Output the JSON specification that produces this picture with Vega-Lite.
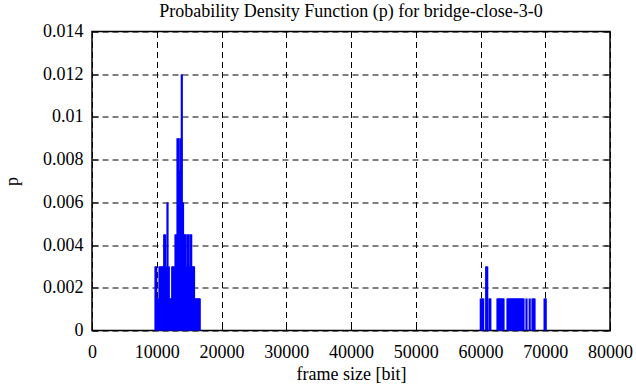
{
  "$schema": "https://vega.github.io/schema/vega-lite/v6.json",
  "width": 518,
  "height": 299,
  "autosize": "none",
  "padding": {"left": 92, "top": 31.5, "right": 26, "bottom": 56.5},
  "background": "white",
  "config": {
    "font": "Liberation Serif",
    "view": {"stroke": "black", "strokeWidth": 1.5},
    "axis": {
      "labelFont": "Liberation Serif",
      "titleFont": "Liberation Serif",
      "labelFontSize": 18,
      "titleFontSize": 18,
      "labelColor": "black",
      "titleColor": "black",
      "titleFontWeight": "normal",
      "domain": false,
      "tickColor": "black",
      "tickWidth": 1,
      "tickSize": -6,
      "gridColor": "black",
      "gridOpacity": 1,
      "gridWidth": 1,
      "gridDash": [6, 4]
    }
  },
  "title": {
    "text": "Probability Density Function (p) for bridge-close-3-0",
    "font": "Liberation Serif",
    "fontSize": 18,
    "fontWeight": "normal",
    "color": "black",
    "anchor": "middle",
    "offset": 2
  },
  "data": {
    "values": [
      {"frameSize": 9807, "p": 0.003},
      {"frameSize": 9915, "p": 0.003},
      {"frameSize": 10069, "p": 0.0015},
      {"frameSize": 10224, "p": 0.0015},
      {"frameSize": 10425, "p": 0.003},
      {"frameSize": 10579, "p": 0.003},
      {"frameSize": 10734, "p": 0.003},
      {"frameSize": 10888, "p": 0.003},
      {"frameSize": 10996, "p": 0.003},
      {"frameSize": 11151, "p": 0.0045},
      {"frameSize": 11305, "p": 0.0045},
      {"frameSize": 11460, "p": 0.003},
      {"frameSize": 11660, "p": 0.006},
      {"frameSize": 11861, "p": 0.003},
      {"frameSize": 12016, "p": 0.0015},
      {"frameSize": 12170, "p": 0.0015},
      {"frameSize": 12278, "p": 0.0015},
      {"frameSize": 12386, "p": 0.003},
      {"frameSize": 12541, "p": 0.003},
      {"frameSize": 12695, "p": 0.003},
      {"frameSize": 12896, "p": 0.0045},
      {"frameSize": 13019, "p": 0.0045},
      {"frameSize": 13205, "p": 0.009},
      {"frameSize": 13359, "p": 0.009},
      {"frameSize": 13529, "p": 0.0075},
      {"frameSize": 13668, "p": 0.009},
      {"frameSize": 13869, "p": 0.012},
      {"frameSize": 14054, "p": 0.006},
      {"frameSize": 14178, "p": 0.0045},
      {"frameSize": 14332, "p": 0.0045},
      {"frameSize": 14456, "p": 0.0045},
      {"frameSize": 14610, "p": 0.003},
      {"frameSize": 14764, "p": 0.0045},
      {"frameSize": 14903, "p": 0.0045},
      {"frameSize": 15058, "p": 0.003},
      {"frameSize": 15212, "p": 0.0045},
      {"frameSize": 15320, "p": 0.0045},
      {"frameSize": 15475, "p": 0.003},
      {"frameSize": 15629, "p": 0.003},
      {"frameSize": 15753, "p": 0.003},
      {"frameSize": 15907, "p": 0.0015},
      {"frameSize": 16062, "p": 0.0015},
      {"frameSize": 16216, "p": 0.0015},
      {"frameSize": 16371, "p": 0.0015},
      {"frameSize": 16525, "p": 0.0015},
      {"frameSize": 16633, "p": 0.0015},
      {"frameSize": 60046, "p": 0.0015},
      {"frameSize": 60278, "p": 0.0015},
      {"frameSize": 60417, "p": 0.0015},
      {"frameSize": 60880, "p": 0.003},
      {"frameSize": 61035, "p": 0.003},
      {"frameSize": 61390, "p": 0.0015},
      {"frameSize": 61514, "p": 0.0015},
      {"frameSize": 62625, "p": 0.0015},
      {"frameSize": 62780, "p": 0.0015},
      {"frameSize": 62934, "p": 0.0015},
      {"frameSize": 63089, "p": 0.0015},
      {"frameSize": 63243, "p": 0.0015},
      {"frameSize": 63398, "p": 0.0015},
      {"frameSize": 63552, "p": 0.0015},
      {"frameSize": 64170, "p": 0.0015},
      {"frameSize": 64324, "p": 0.0015},
      {"frameSize": 64479, "p": 0.0015},
      {"frameSize": 64633, "p": 0.0015},
      {"frameSize": 64788, "p": 0.0015},
      {"frameSize": 64942, "p": 0.0015},
      {"frameSize": 65097, "p": 0.0015},
      {"frameSize": 65251, "p": 0.0015},
      {"frameSize": 65406, "p": 0.0015},
      {"frameSize": 65560, "p": 0.0015},
      {"frameSize": 65714, "p": 0.0015},
      {"frameSize": 65869, "p": 0.0015},
      {"frameSize": 66023, "p": 0.0015},
      {"frameSize": 66178, "p": 0.0015},
      {"frameSize": 66332, "p": 0.0015},
      {"frameSize": 66487, "p": 0.0015},
      {"frameSize": 66641, "p": 0.0015},
      {"frameSize": 67104, "p": 0.0015},
      {"frameSize": 67598, "p": 0.0015},
      {"frameSize": 68031, "p": 0.0015},
      {"frameSize": 68185, "p": 0.0015},
      {"frameSize": 68340, "p": 0.0015},
      {"frameSize": 69900, "p": 0.0015},
      {"frameSize": 70069, "p": 0.0015}
    ]
  },
  "layer": [
    {
      "mark": {"type": "rule", "color": "#0000ff", "strokeWidth": 2.2, "strokeCap": "butt"},
      "encoding": {
        "x": {
          "field": "frameSize",
          "type": "quantitative",
          "scale": {"domain": [0, 80000], "nice": false, "zero": false},
          "axis": {
            "orient": "bottom",
            "values": [0, 10000, 20000, 30000, 40000, 50000, 60000, 70000, 80000],
            "format": "d",
            "title": "frame size [bit]",
            "labelPadding": 19,
            "titlePadding": 4,
            "labelFlush": false,
            "grid": true
          }
        },
        "y": {
          "field": "p",
          "type": "quantitative",
          "scale": {"domain": [0, 0.014], "nice": false},
          "axis": {
            "orient": "left",
            "values": [0, 0.002, 0.004, 0.006, 0.008, 0.01, 0.012, 0.014],
            "format": "~g",
            "title": "p",
            "labelPadding": 15,
            "titlePadding": 21,
            "labelFlush": false,
            "grid": true
          }
        },
        "y2": {"datum": 0}
      }
    },
    {
      "mark": {"type": "rule", "opacity": 0},
      "encoding": {
        "x": {
          "field": "frameSize",
          "type": "quantitative",
          "axis": {
            "orient": "top",
            "values": [0, 10000, 20000, 30000, 40000, 50000, 60000, 70000, 80000],
            "labels": false,
            "title": null,
            "grid": false
          }
        },
        "y": {
          "field": "p",
          "type": "quantitative",
          "axis": {
            "orient": "right",
            "values": [0, 0.002, 0.004, 0.006, 0.008, 0.01, 0.012, 0.014],
            "labels": false,
            "title": null,
            "grid": false
          }
        }
      }
    }
  ],
  "resolve": {"axis": {"x": "independent", "y": "independent"}}
}
